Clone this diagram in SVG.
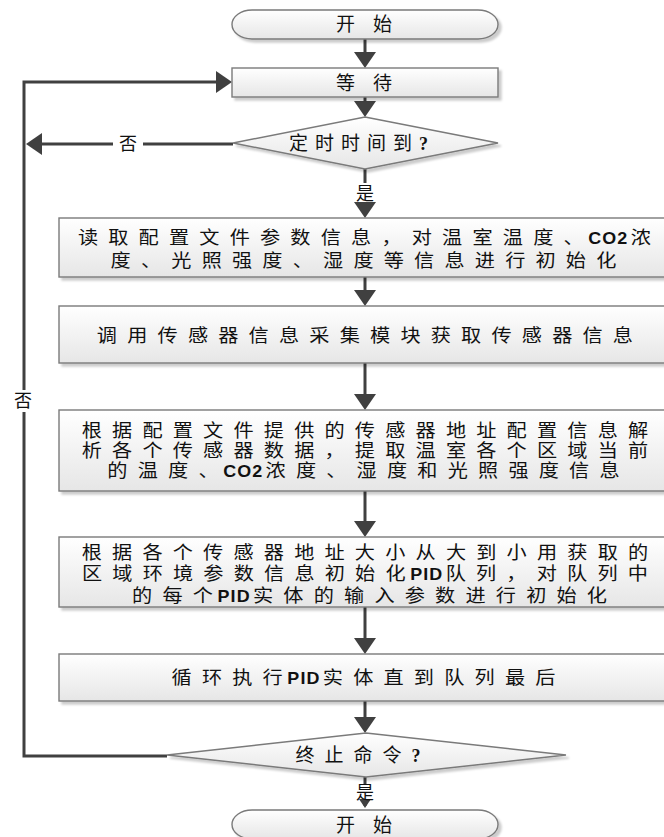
<svg xmlns="http://www.w3.org/2000/svg" width="664" height="837" viewBox="0 0 664 837">
<style>
.box{fill:url(#g);stroke:#7a7a7a;stroke-width:1.4;filter:url(#sh)}
.t{font-family:"Noto Sans CJK SC","Noto Sans",sans-serif;font-size:19px;fill:#111;text-anchor:middle}
.s{font-size:18px;letter-spacing:9.1px}
.d{letter-spacing:7px}
.w{letter-spacing:18px}
.b{font-family:"Liberation Sans",Arial,sans-serif;font-weight:bold;font-size:16px;letter-spacing:1px}
.q{font-family:"Liberation Serif",serif;font-weight:bold;font-size:18px}
.c{fill:none;stroke:#404040;stroke-width:3}
.lbl{font-family:"Noto Sans CJK SC",sans-serif;font-size:18px;fill:#111;text-anchor:middle}
</style>
<defs>
<linearGradient id="g" x1="0" y1="0" x2="0" y2="1">
<stop offset="0" stop-color="#ffffff"/>
<stop offset="1" stop-color="#e6e6e6"/>
</linearGradient>
<filter id="sh" x="-5%" y="-10%" width="115%" height="130%">
<feDropShadow dx="3" dy="3" stdDeviation="1.2" flood-color="#000" flood-opacity="0.2"/>
</filter>
<marker id="ah" markerUnits="userSpaceOnUse" markerWidth="16" markerHeight="22" viewBox="0 0 16 22" refX="12" refY="11" orient="auto">
<path d="M0,0 L16,11 L0,22 z" fill="#404040"/>
</marker>
<marker id="ahs" markerUnits="userSpaceOnUse" markerWidth="9" markerHeight="12" viewBox="0 0 9 12" refX="7" refY="6" orient="auto">
<path d="M0,0 L9,6 L0,12 z" fill="#404040"/>
</marker>
</defs>

<g id="connectors">
<path class="c" d="M365,39 V64" marker-end="url(#ah)"/>
<path class="c" d="M365,97 V113" marker-end="url(#ah)"/>
<path class="c" d="M365,169 V183 M365,203 V214" marker-end="url(#ah)"/>
<path class="c" d="M233,144 H143 M113,144 H30" marker-end="url(#ah)"/>
<path class="c" d="M365,277 V302" marker-end="url(#ah)"/>
<path class="c" d="M365,363 V406" marker-end="url(#ah)"/>
<path class="c" d="M365,491 V533" marker-end="url(#ah)"/>
<path class="c" d="M365,607 V650" marker-end="url(#ah)"/>
<path class="c" d="M365,701 V729" marker-end="url(#ah)"/>
<path class="c" d="M167,756 H24 V412 M24,390 V82 H228" marker-end="url(#ah)"/>
<path class="c" d="M365,777 V784"/>
<path class="c" d="M365,803 V806" stroke-width="2" marker-end="url(#ahs)"/>
<text class="lbl" x="128" y="150">否</text>
<text class="lbl" x="23" y="407">否</text>
<text class="lbl" x="365" y="200">是</text>
<text class="lbl" x="365" y="799" font-size="17">是</text>
</g>

<g id="start">
<rect class="box" x="232" y="10" width="266" height="29" rx="20" ry="14.5"/>
<text class="t w" x="373" y="31">开始</text>
</g>

<g id="wait">
<rect class="box" x="232" y="68" width="266" height="29"/>
<text class="t w" x="373" y="90">等待</text>
</g>

<g id="timer">
<polygon class="box" points="365,117 498,143 365,169 233,143"/>
<text class="t d" x="362" y="150">定时时间到<tspan class="q">?</tspan></text>
</g>

<g id="init">
<rect class="box" x="59" y="218" width="612" height="59"/>
<g transform="translate(365,0) scale(1.12,1) translate(-365,0)">
<text class="t s" x="369" y="244">读取配置文件参数信息，对温室温度、<tspan class="b" dx="-5">CO2</tspan><tspan dx="2">浓</tspan></text>
<text class="t s" x="368.2" y="267">度、光照强度、湿度等信息进行初始化</text>
</g>
</g>

<g id="collect">
<rect class="box" x="59" y="306" width="612" height="57"/>
<g transform="translate(365,0) scale(1.12,1) translate(-365,0)">
<text class="t s" x="369.5" y="342">调用传感器信息采集模块获取传感器信息</text>
</g>
</g>

<g id="parse">
<rect class="box" x="59" y="410" width="612" height="81"/>
<g transform="translate(365,0) scale(1.12,1) translate(-365,0)">
<text class="t s" x="369.5" y="437">根据配置文件提供的传感器地址配置信息解</text>
<text class="t s" x="369.5" y="457">析各个传感器数据，提取温室各个区域当前</text>
<text class="t s" x="368.2" y="477">的温度、<tspan class="b" dx="-5">CO2</tspan><tspan dx="2">浓度、湿度和光照强度信息</tspan></text>
</g>
</g>

<g id="pidinit">
<rect class="box" x="59" y="537" width="612" height="70"/>
<g transform="translate(365,0) scale(1.12,1) translate(-365,0)">
<text class="t s" x="369.5" y="559">根据各个传感器地址大小从大到小用获取的</text>
<text class="t s" x="369.5" y="580">区域环境参数信息初始化<tspan class="b" dx="-5">PID</tspan><tspan dx="2">队列，对队列中</tspan></text>
<text class="t s" x="373.6" y="602">的每个<tspan class="b" dx="-5">PID</tspan><tspan dx="2">实体的输入参数进行初始化</tspan></text>
</g>
</g>

<g id="loop">
<rect class="box" x="59" y="654" width="612" height="47"/>
<g transform="translate(365,0) scale(1.12,1) translate(-365,0)">
<text class="t s" x="368.2" y="684">循环执行<tspan class="b" dx="-5">PID</tspan><tspan dx="2">实体直到队列最后</tspan></text>
</g>
</g>

<g id="stop">
<polygon class="box" points="366,733 566,755 366,777 167,755"/>
<text class="t" x="363" y="762" style="letter-spacing:10px">终止命令<tspan class="q">?</tspan></text>
</g>

<g id="end">
<rect class="box" x="232" y="810" width="266" height="29" rx="20" ry="14.5"/>
<text class="t w" x="373" y="832">开始</text>
</g>
</svg>
